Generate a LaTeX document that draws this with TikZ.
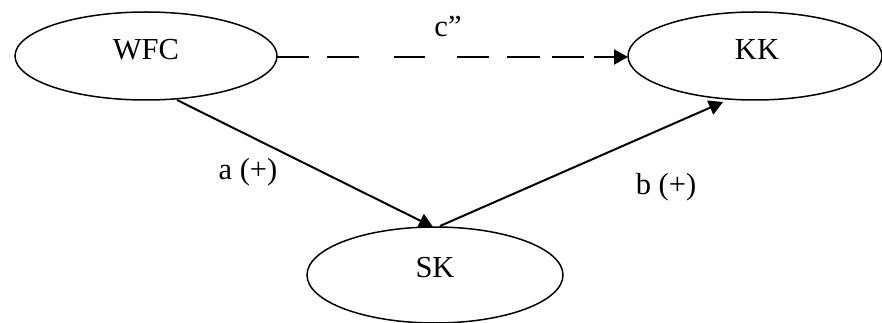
\documentclass[tikz,border=0pt]{standalone}
\usepackage{fontspec}
\setmainfont{Liberation Serif}
\usetikzlibrary{shapes.geometric,arrows.meta}
\begin{document}
\begin{tikzpicture}[x=1pt,y=-1pt,
  oval/.style={draw,ellipse,line width=1.5pt,inner sep=0pt},
  lbl/.style={inner sep=0pt,font=\fontsize{30.5}{36}\selectfont},
  conn/.style={line width=2pt,-{Triangle[length=14pt,width=15pt]}}]
\useasboundingbox (0,0) rectangle (882,323);
\node[oval,minimum width=262pt,minimum height=88pt] (wfc) at (146,56) {};
\node[oval,minimum width=254pt,minimum height=88pt] (kk) at (755,56) {};
\node[oval,minimum width=256pt,minimum height=96pt] (sk) at (435,275) {};
\node[lbl] (twfc) at (146,50) {WFC};
\node[lbl] (tkk) at (757,50) {KK};
\node[lbl] (tsk) at (435,268) {SK};
\coordinate (w1) at (277,57);
\coordinate (k1) at (628,57);
\coordinate (w2) at (177,100);
\coordinate (s1) at (433,227);
\coordinate (s2) at (440,226);
\coordinate (k2) at (723,102);
\draw[conn,dash pattern=on 32pt off 18pt on 32pt off 35pt on 31pt off 32pt on 32pt off 18pt on 33pt off 12pt on 32pt off 10pt on 60pt] (w1) -- (k1);
\draw[conn] (w2) -- (s1);
\draw[conn] (s2) -- (k2);
\node[lbl] (c) at (448,27) {c”};
\node[lbl] (a) at (248,172) {a (+)};
\node[lbl] (b) at (666,187) {b (+)};
\end{tikzpicture}
\end{document}
